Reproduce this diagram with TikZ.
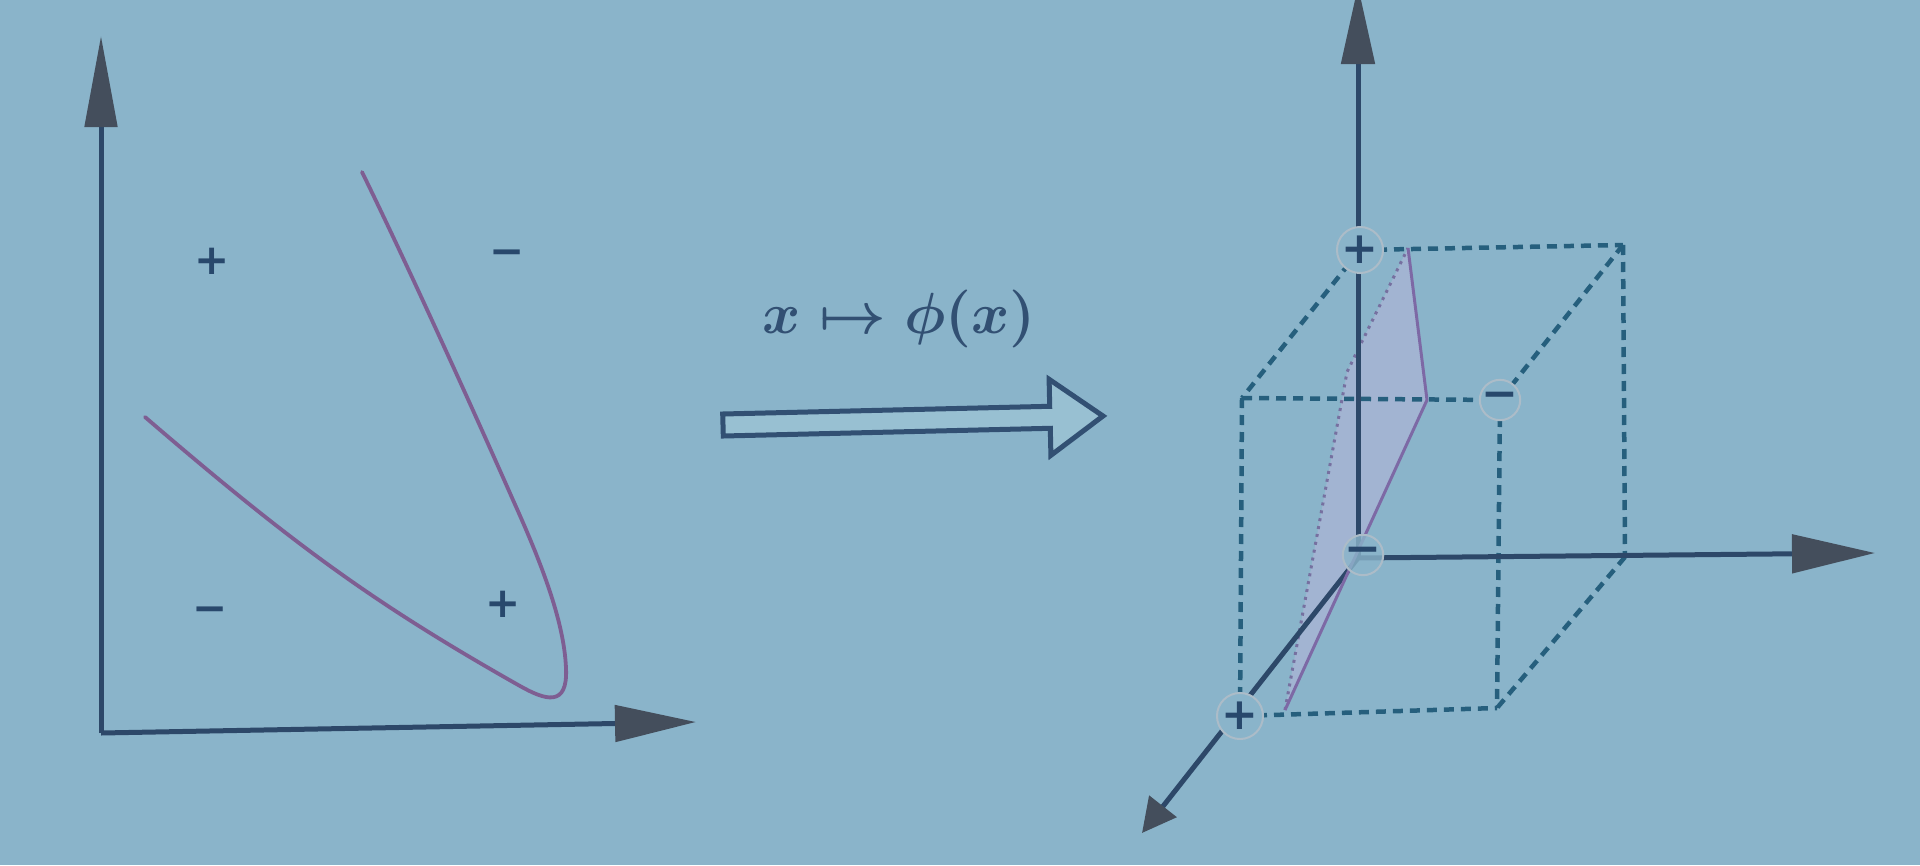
\documentclass[tikz,border=0pt]{standalone}
\usepackage{fontspec}
\usepackage{amsmath,bm}
\usetikzlibrary{arrows.meta}
\newfontfamily\signfont{DejaVu Sans}
\definecolor{bgc}{RGB}{138,180,202}
\definecolor{axisc}{RGB}{45,72,105}
\definecolor{headc}{RGB}{68,78,92}
\definecolor{curvec}{RGB}{126,94,146}
\definecolor{dashc}{RGB}{38,95,125}
\definecolor{signc}{RGB}{40,72,108}
\definecolor{labelc}{RGB}{50,80,115}
\definecolor{planefill}{RGB}{186,180,218}
\definecolor{planeedge}{RGB}{125,105,165}
\definecolor{hiddenc}{RGB}{118,112,160}
\definecolor{circlec}{RGB}{172,188,200}
\definecolor{arrowfill}{RGB}{152,192,210}
\tikzset{
  axis/.style={draw=axisc, line width=5pt},
  curve/.style={draw=curvec, line width=3.8pt},
  lsign/.style={font=\signfont\bfseries\fontsize{42}{42}\selectfont, text=signc, inner sep=0pt},
  csign/.style={circle, draw=circlec, line width=2pt, fill=bgc, minimum size=40pt, inner sep=0pt,
    font=\signfont\bfseries\fontsize{44}{44}\selectfont, text=signc},
  cubeedge/.style={draw=dashc, line width=4.5pt, dash pattern=on 10pt off 7pt},
  hidden/.style={draw=hiddenc, line width=3pt, dash pattern=on 3pt off 5pt},
  planeline/.style={draw=planeedge, line width=3pt, line join=round},
  bigarrow/.style={draw=labelc, fill=arrowfill, line width=5pt, line join=miter}
}
\begin{document}
\begin{tikzpicture}[x=1pt,y=-1pt]
\fill[bgc] (0,0) rectangle (1920,865);
\useasboundingbox (0,0) rectangle (1920,865);

% ---------- left plot ----------
\coordinate (LO) at (101,733);
\coordinate (LY) at (101,36);
\coordinate (LX) at (696,722);
\draw[axis, -{Triangle[length=91pt,width=32pt,color=headc]}] (LO) -- (LY);
\draw[axis, -{Triangle[length=81pt,width=36pt,color=headc]}] (LO) -- (LX);
\draw[curve, line cap=round] (145,417) .. controls (295,546) and (375,604) .. (520,686)
  .. controls (545,700) and (568,708) .. (566,668)
  .. controls (564,620) and (540,560) .. (513,500)
  .. controls (480,425) and (410,270) .. (362,172);
\node[lsign] (p1) at (211.7,261) {+};
\node[lsign] (m1) at (507,258) {−};
\node[lsign] (m2) at (210,614.5) {−};
\node[lsign] (p2) at (503,604) {+};

% ---------- mapping arrow ----------
\node[font=\boldmath, scale=5.8, text=labelc] (map) at (899,319) {$x \mapsto \phi(x)$};
\draw[bigarrow] (722.7,414) -- (1049.7,406.3) -- (1049.1,379.3) -- (1103,416) -- (1050.9,455.3) -- (1050.3,428.3) -- (723.3,436) -- cycle;

% ---------- 3D plot ----------
\coordinate (O) at (1358,558);
\coordinate (Z) at (1360,250);
\coordinate (X) at (1625,557);
\coordinate (XZ) at (1623,245);
\coordinate (D) at (1240,716);
\coordinate (DZ) at (1242,398);
\coordinate (DXZ) at (1500,400);
\coordinate (DX) at (1497,708);
\coordinate (ZT) at (1358,-14);
\coordinate (XT) at (1875,553);
\coordinate (DT) at (1142,833);
\coordinate (PT) at (1408,248);
\coordinate (PR) at (1427,400);
\coordinate (PB) at (1285,710);
\coordinate (PL) at (1347,372);

\fill[planefill, opacity=0.5] (PT) -- (PR) -- (PB) -- (PL) -- cycle;
\draw[hidden] (PB) -- (PL) -- (PT);

\draw[cubeedge] (Z) -- (XZ);
\draw[cubeedge] (Z) -- (DZ);
\draw[cubeedge] (XZ) -- (DXZ);
\draw[cubeedge] (DZ) -- (DXZ);
\draw[cubeedge] (DZ) -- (D);
\draw[cubeedge] (DXZ) -- (DX);
\draw[cubeedge] (XZ) -- (X);
\draw[cubeedge] (X) -- (DX);
\draw[cubeedge] (D) -- (DX);

\draw[axis, -{Triangle[length=78pt,width=33pt,color=headc]}] (O) -- (ZT);
\draw[axis, -{Triangle[length=83pt,width=38pt,color=headc]}] (O) -- (XT);
\draw[axis, -{Triangle[length=34pt,width=34pt,color=headc]}] (O) -- (DT);

\draw[planeline] (PT) -- (PR) -- (PB);

\node[csign] (cz) at (Z) {+};
\node[csign, minimum size=38pt] (cm) at (DXZ) {−};
\node[csign, fill opacity=0.8, text opacity=1] (co) at (1363,555) {−};
\node[csign, minimum size=36pt] (cd) at (D) {+};
\end{tikzpicture}
\end{document}
